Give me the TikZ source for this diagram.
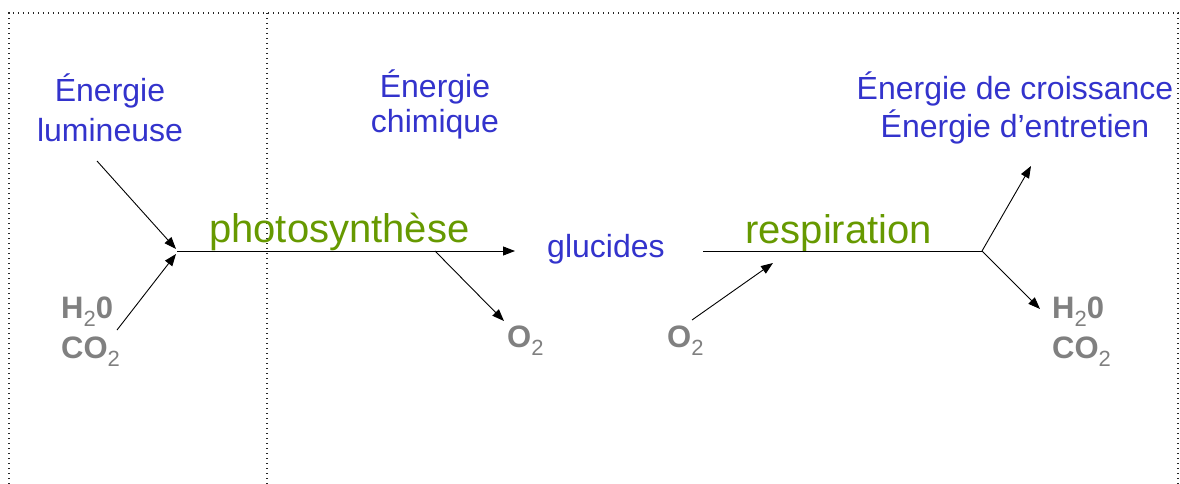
\documentclass[tikz,border=0pt]{standalone}
\usepackage{fontspec}
\setmainfont{Liberation Sans}
\usetikzlibrary{arrows.meta}
\definecolor{eblue}{RGB}{51,51,204}
\definecolor{pgreen}{RGB}{102,153,0}
\definecolor{cgray}{RGB}{128,128,128}
\newcommand{\lowtwo}{\raisebox{-8pt}{\mdseries\fontsize{22}{22}\selectfont 2}}
\tikzset{
  bluelbl/.style={text=eblue, font=\fontsize{32}{38}\selectfont, align=center, inner sep=0pt, anchor=base},
  greenlbl/.style={text=pgreen, font=\fontsize{40}{46}\selectfont, inner sep=0pt, anchor=base west},
  graylbl/.style={text=cgray, font=\bfseries\fontsize{31}{40}\selectfont, align=left, inner sep=0pt, anchor=base west},
  arr/.style={-{Triangle[length=12pt,width=9pt]}, line width=0.9pt},
  plain/.style={line width=0.9pt},
  frame/.style={line width=1.3pt, dash pattern=on 1.3pt off 3.7pt, black!85}
}
\begin{document}
\begin{tikzpicture}[x=1pt,y=-1pt]
\useasboundingbox (0,0) rectangle (1180,484);
% frame
\draw[frame] (9,484) -- (9,13) -- (1178,13) -- (1178,484);
\draw[frame] (267,13) -- (267,484);
% labels (base anchor = baseline of the last line)
\node[bluelbl, font=\fontsize{32}{40}\selectfont] (lum) at (110,142) {Énergie\\lumineuse};
\node[bluelbl, font=\fontsize{32}{35}\selectfont] (chim) at (435,132) {Énergie\\chimique};
\node[bluelbl, font=\fontsize{32}{38}\selectfont] (croiss) at (1015,138) {Énergie de croissance\\Énergie d’entretien};
\node[greenlbl] (photo) at (209,242) {photosynthèse};
\node[greenlbl] (resp) at (745,243) {respiration};
\node[bluelbl, anchor=base west] (gluc) at (547,257) {glucides};
\node[graylbl] (inL) at (61,358) {H\lowtwo0\\CO\lowtwo};
\node[graylbl] (oL) at (507,347) {O\lowtwo};
\node[graylbl] (oR) at (667,347) {O\lowtwo};
\node[graylbl] (outR) at (1052,358) {H\lowtwo0\\CO\lowtwo};
% coordinates
\coordinate (lumS) at (97,161);
\coordinate (inS) at (117,330);
\coordinate (jA) at (177,251);
\coordinate (mainE) at (515,251);
\coordinate (brA) at (435,251);
\coordinate (oLT) at (504,321);
\coordinate (oRS) at (692,320);
\coordinate (respT) at (773,263);
\coordinate (respS) at (703,251);
\coordinate (jB) at (982,251);
\coordinate (upT) at (1031,166);
\coordinate (dnT) at (1040,309);
% connectors
\draw[arr] (lumS) -- (176,249);
\draw[arr] (inS) -- (176,254);
\draw[arr] (jA) -- (mainE);
\draw[arr] (brA) -- (oLT);
\draw[arr] (oRS) -- (respT);
\draw[plain] (respS) -- (jB);
\draw[arr] (jB) -- (upT);
\draw[arr] (jB) -- (dnT);
\end{tikzpicture}
\end{document}
